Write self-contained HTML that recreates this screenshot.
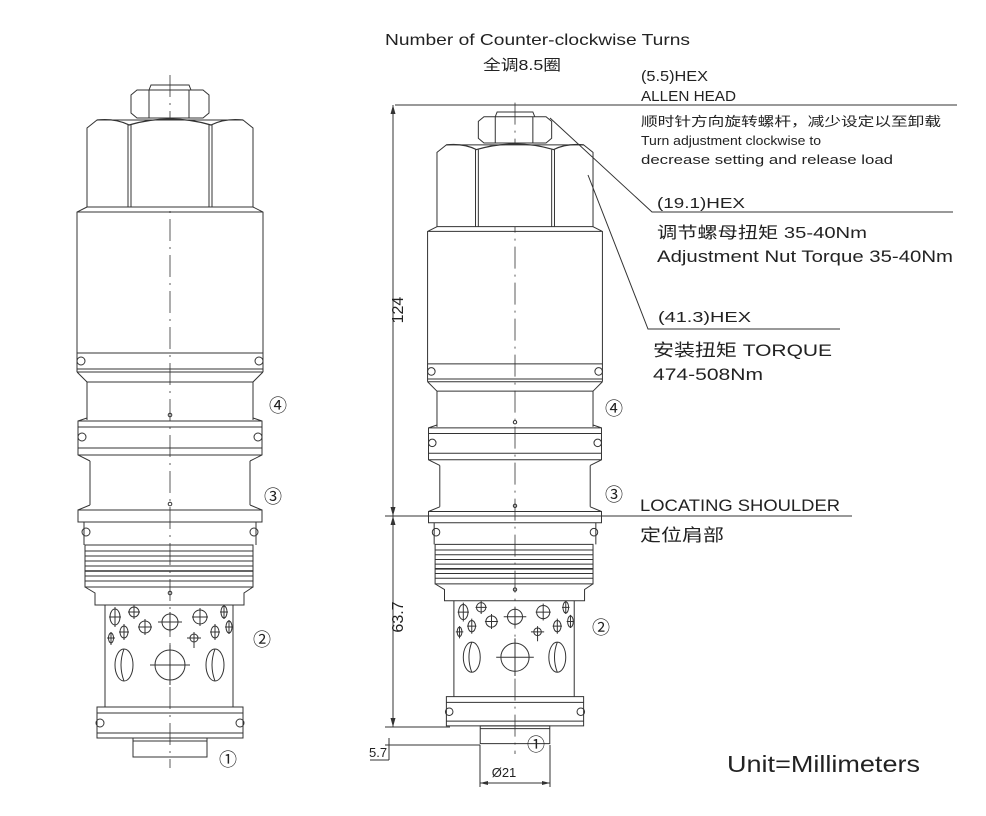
<!DOCTYPE html>
<html><head><meta charset="utf-8"><style>
body{margin:0;background:#fff}
svg{display:block}
text{font-family:"Liberation Sans","Noto Sans CJK SC",sans-serif;fill:#222}
.s *{vector-effect:non-scaling-stroke}
</style></head><body>
<svg width="986" height="816" viewBox="0 0 986 816" xmlns="http://www.w3.org/2000/svg">
<defs>
<g id="v" class="s" fill="none" stroke="#333" stroke-width="1">
<line x1="170" y1="75" x2="170" y2="768" stroke-dasharray="22,6,2,6" stroke-width="0.8"/>
<path d="M149,90 L151,85 L189,85 L191,90"/>
<path d="M131,95 L137,90 L203,90 L209,95 L209,113 L203,118 L137,118 L131,113 Z"/>
<path d="M149,90 L149,118 M189,90 L189,118"/>
<path d="M87,128 L97,120 L243,120 L253,128 L253,207 L87,207 Z" fill="#fff"/>
<path d="M97,120 Q115,118 129,125 Q170,113 211,125 Q225,118 243,120" stroke-width="1.2"/>
<path d="M128,125 V207 M131,125 V207 M209,125 V207 M212,125 V207"/>
<path d="M87,207 L77,212 L77,353 L263,353 L263,212 L253,207 M77,212 H263"/>
<path d="M77,353 V369 M263,353 V369 M77,369 H263 M77,372 H263 M77,369 V372 M263,369 V372 M77,372 L87,382 M263,372 L253,382 M87,382 H253"/>
<circle cx="81" cy="361" r="4"/><circle cx="259" cy="361" r="4"/>
<path d="M87,382 V420 M253,382 V420"/>
<path d="M87,418 L78,421 V455 L90,461 M253,418 L262,421 V455 L250,461 M78,421 H262 M78,427 H262 M78,448 H262 M78,455 H262"/>
<circle cx="82" cy="437" r="4"/><circle cx="258" cy="437" r="4"/>
<path d="M90,461 V505 M250,461 V505 M90,505 L78,510 M250,505 L262,510"/>
<rect x="78" y="510" width="184" height="12"/>
<path d="M84,522 V545 M256,522 V545"/>
<circle cx="86" cy="532" r="4"/><circle cx="254" cy="532" r="4"/>
<rect x="85" y="545" width="168" height="42"/>
<path d="M85,551 H253 M85,556 H253 M85,561 H253 M85,566 H253 M85,576 H253 M85,581 H253"/>
<path d="M85,571 H253" stroke-width="1.6"/>
<path d="M85,587 L95,593 V605 H244 V593 L253,587"/>
<path d="M105,605 V707 M233,605 V707"/>
<rect x="97" y="707" width="146" height="31"/>
<path d="M97,713 H243 M97,733 H243"/>
<circle cx="100" cy="723" r="4"/><circle cx="240" cy="723" r="4"/>
<rect x="133" y="738" width="74" height="19"/>
<path d="M133,741 H207"/>
<circle cx="170" cy="415" r="1.8"/><circle cx="170" cy="504" r="1.8"/><circle cx="170" cy="593" r="1.8"/>
<circle cx="170" cy="665" r="15"/><path d="M150,665 H190 M170,645 V685"/>
<circle cx="170" cy="622" r="8"/><path d="M158,622 H182 M170,612 V632"/>
<ellipse cx="124" cy="665" rx="9" ry="16"/><path d="M124,649 Q118,665 124,681"/>
<ellipse cx="215" cy="665" rx="9" ry="16"/><path d="M215,649 Q209,665 215,681"/>
<ellipse cx="115" cy="617" rx="5" ry="8"/><path d="M109,617 H121 M115,607 V627"/>
<circle cx="134" cy="612" r="5"/><path d="M128,612 H140 M134,605 V619"/>
<ellipse cx="124" cy="632" rx="4" ry="6"/><path d="M119,632 H129 M124,624 V640"/>
<circle cx="145" cy="627" r="6"/><path d="M138,627 H152 M145,619 V635"/>
<ellipse cx="111" cy="638" rx="2.5" ry="5"/><path d="M107,638 H115 M111,632 V645"/>
<circle cx="200" cy="617" r="7"/><path d="M192,617 H208 M200,608 V626"/>
<ellipse cx="224" cy="612" rx="3" ry="6"/><path d="M220,612 H228 M224,605 V619"/>
<ellipse cx="215" cy="632" rx="4" ry="6"/><path d="M210,632 H220 M215,624 V640"/>
<circle cx="194" cy="638" r="4"/><path d="M187,638 H201 M194,632 V648"/>
<ellipse cx="229" cy="627" rx="3" ry="6"/><path d="M225,627 H233 M229,620 V634"/>
</g>
</defs>
<use href="#v"/>
<use href="#v" transform="translate(355.2,32.1) scale(0.94)"/>
<g font-size="18">
<text x="269" y="412">④</text><text x="264" y="503">③</text><text x="253" y="646">②</text><text x="219" y="766">①</text>
<text x="605" y="415">④</text><text x="605" y="501">③</text><text x="592" y="634">②</text><text x="527" y="751">①</text>
</g>
<g fill="none" stroke="#333" stroke-width="1">
<path d="M395,105 H957"/>
<path d="M393,105 V516 M393,516 V727"/>
<path d="M393,105 l-2.5,9 h5 z M393,516 l-2.5,-9 h5 z M393,516 l-2.5,9 h5 z M393,727 l-2.5,-9 h5 z" fill="#333" stroke="none"/>
<path d="M385,516 H852"/>
<path d="M385,727 H450"/>
<path d="M385,745 H480 M389,738 V760 M370,760 H389"/>
<path d="M480,745 V787 M550,745 V787 M480,783 H550"/>
<path d="M480,783 l8,-2 v4 z M550,783 l-8,-2 v4 z" fill="#333" stroke="none"/>
<path d="M550,118 L652,212 H953"/>
<path d="M588,175 L648,329 H840"/>
</g>
<text x="385" y="45" font-size="16" textLength="305" lengthAdjust="spacingAndGlyphs">Number of Counter-clockwise Turns</text>
<text x="483" y="70" font-size="15" textLength="78" lengthAdjust="spacingAndGlyphs">全调8.5圈</text>
<text x="641" y="81" font-size="15" textLength="67" lengthAdjust="spacingAndGlyphs">(5.5)HEX</text>
<text x="641" y="101" font-size="15" textLength="95" lengthAdjust="spacingAndGlyphs">ALLEN HEAD</text>
<text x="641" y="126" font-size="13" textLength="300" lengthAdjust="spacingAndGlyphs">顺时针方向旋转螺杆，减少设定以至卸载</text>
<text x="641" y="145" font-size="13" textLength="180" lengthAdjust="spacingAndGlyphs">Turn adjustment clockwise to</text>
<text x="641" y="164" font-size="13" textLength="252" lengthAdjust="spacingAndGlyphs">decrease setting and release load</text>
<text x="657" y="208" font-size="15" textLength="88" lengthAdjust="spacingAndGlyphs">(19.1)HEX</text>
<text x="657" y="238" font-size="16" textLength="210" lengthAdjust="spacingAndGlyphs">调节螺母扭矩 35-40Nm</text>
<text x="657" y="262" font-size="17" textLength="296" lengthAdjust="spacingAndGlyphs">Adjustment Nut Torque 35-40Nm</text>
<text x="658" y="322" font-size="15" textLength="93" lengthAdjust="spacingAndGlyphs">(41.3)HEX</text>
<text x="653" y="356" font-size="17" textLength="179" lengthAdjust="spacingAndGlyphs">安装扭矩 TORQUE</text>
<text x="653" y="380" font-size="17" textLength="110" lengthAdjust="spacingAndGlyphs">474-508Nm</text>
<text x="640" y="511" font-size="17" textLength="200" lengthAdjust="spacingAndGlyphs">LOCATING SHOULDER</text>
<text x="640" y="541" font-size="17" textLength="84" lengthAdjust="spacingAndGlyphs">定位肩部</text>
<text x="727" y="772" font-size="23" textLength="193" lengthAdjust="spacingAndGlyphs">Unit=Millimeters</text>
<text x="403" y="310" font-size="16" text-anchor="middle" transform="rotate(-90 403 310)">124</text>
<text x="403" y="617" font-size="16" text-anchor="middle" transform="rotate(-90 403 617)">63.7</text>
<text x="369" y="757" font-size="13">5.7</text>
<text x="504" y="777" font-size="13" text-anchor="middle">Ø21</text>
</svg>
</body></html>
